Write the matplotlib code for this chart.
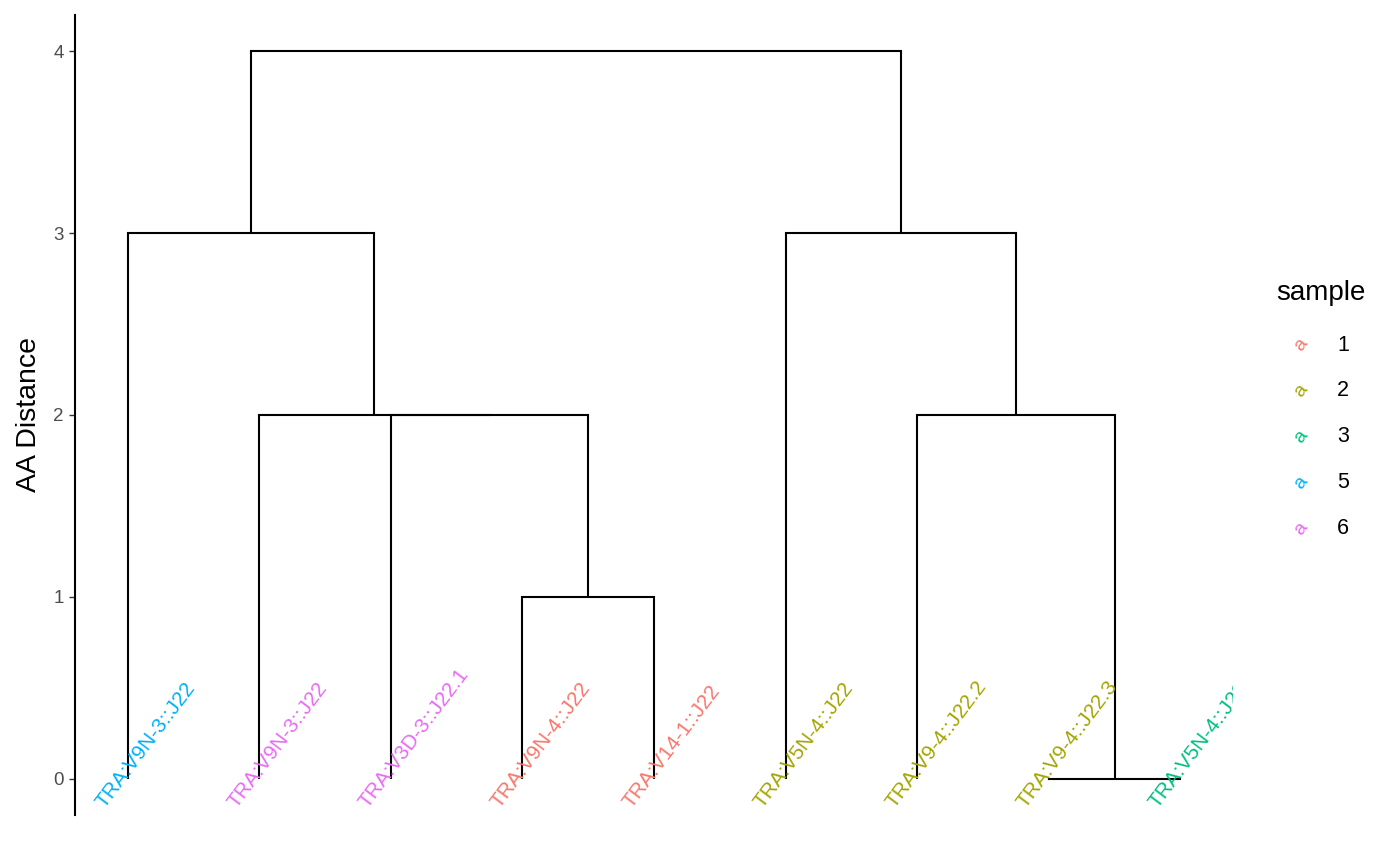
import matplotlib
matplotlib.use('Agg')
import matplotlib.pyplot as plt
import matplotlib.transforms as mtransforms

plt.rcParams['font.family'] = ['Liberation Sans', 'DejaVu Sans']

# ─── data ──────────────────────────────────────────────────────────────────
leaf_labels = ['TRA:V9N-3::J22', 'TRA:V9N-3::J22', 'TRA:V3D-3::J22.1',
               'TRA:V9N-4::J22', 'TRA:V14-1::J22', 'TRA:V5N-4::J22',
               'TRA:V9-4::J22.2', 'TRA:V9-4::J22.3', 'TRA:V5N-4::J22']
leaf_samples = ['5', '6', '6', '1', '1', '2', '2', '2', '3']

# merges: (left node, right node, height); new node ids start after leaves
merges = [
    (7, 8, 0),
    (3, 4, 1),
    (2, 10, 2),
    (1, 11, 2),
    (0, 12, 3),
    (6, 9, 2),
    (5, 14, 3),
    (13, 15, 4),
]

sample_levels = ['1', '2', '3', '5', '6']
sample_colors = ['#F8766D', '#A3A500', '#00BF7D', '#00B0F6', '#E76BF3']
y_ticks = [0, 1, 2, 3, 4]

color_of = dict(zip(sample_levels, sample_colors))

# ─── figure ────────────────────────────────────────────────────────────────
fig = plt.figure(figsize=(14, 8.65), dpi=100, facecolor='white')
ax = fig.add_axes([0.0536, 0.0578, 0.8271, 0.9249])

n = len(leaf_labels)
pos = {i: (i + 1, 0) for i in range(n)}  # node -> (x, height)
for k, (a, b, h) in enumerate(merges):
    xa, ha_ = pos[a]
    xb, hb = pos[b]
    ax.plot([xa, xa], [ha_, h], color='black', lw=1.5, solid_capstyle='butt')
    ax.plot([xb, xb], [hb, h], color='black', lw=1.5, solid_capstyle='butt')
    ax.plot([xa, xb], [h, h], color='black', lw=1.5, solid_capstyle='projecting')
    pos[n + k] = ((xa + xb) / 2, h)

# leaf labels, rotated, clipped to the panel
trans = mtransforms.offset_copy(ax.transData, fig=fig, x=-16.5, y=-22, units='points')
for i, (lab, s) in enumerate(zip(leaf_labels, leaf_samples)):
    t = ax.text(i + 1, 0, lab, transform=trans, rotation=53,
                rotation_mode='anchor', ha='left', va='baseline',
                fontsize=15, color=color_of[s])
    t.set_clip_on(True)
    t.set_clip_path(ax.patch)

ax.set_xlim(0.6, n + 0.4)
ax.set_ylim(-0.2, 4.2)
ax.set_yticks(y_ticks)
ax.set_yticklabels([str(v) for v in y_ticks])
ax.set_xticks([])
ax.tick_params(axis='y', colors='#333333', labelcolor='#4D4D4D',
               labelsize=13.5, length=4, width=1, pad=4)
ax.set_ylabel('AA Distance', fontsize=20.5, color='black', labelpad=8)
for side in ['top', 'right', 'bottom']:
    ax.spines[side].set_visible(False)
ax.spines['left'].set_linewidth(1.5)
ax.spines['left'].set_color('black')

# legend (text keys, like ggplot's geom_text legend)
fig.text(1276 / 1400, 1 - 293 / 865, 'sample', fontsize=20,
         ha='left', va='center', color='black')
for j, (lev, col) in enumerate(zip(sample_levels, sample_colors)):
    y = 1 - (345 + 46 * j) / 865
    fig.text(1301 / 1400, y, 'a', fontsize=14, color=col, rotation=53,
             ha='center', va='center')
    fig.text(1337 / 1400, y, lev, fontsize=15.5, color='black',
             ha='left', va='center')

fig.savefig('out.png', dpi=100, facecolor='white')
